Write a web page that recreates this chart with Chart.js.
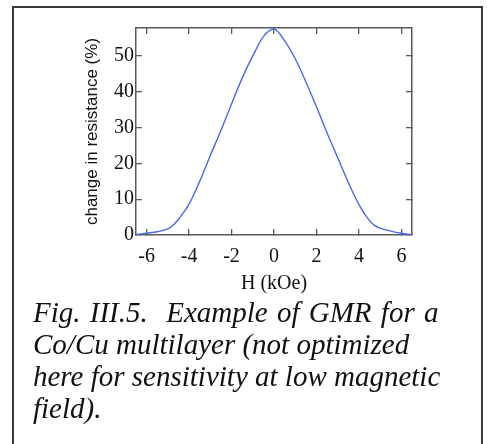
<!DOCTYPE html>
<html>
<head>
<meta charset="utf-8">
<script src="https://cdn.jsdelivr.net/npm/chart.js@4.4.1/dist/chart.umd.min.js"></script>
<style>
  html, body { margin: 0; padding: 0; background: #fff; }
  body { width: 487px; height: 444px; position: relative; overflow: hidden; }
  #frame { position: absolute; left: 12px; top: 6px; width: 471px; height: 450px;
           border: 2px solid #3a3a3a; border-bottom: none; box-sizing: border-box; }
  #wrap { position: absolute; left: 0; top: 0; width: 487px; height: 300px; }
  #caption { position: absolute; left: 33px; top: 296px; width: 450px;
             font-family: "Liberation Serif", "Times New Roman", serif; font-style: italic;
             font-size: 29px; line-height: 32px; color: #111; white-space: nowrap; }
  #caption .l1 { word-spacing: 2px; }
</style>
</head>
<body>
<div id="frame"></div>
<div id="wrap"><canvas id="gmr"></canvas></div>
<div id="caption"><span class="l1">Fig. III.5.&nbsp; Example of GMR for a</span><br>Co/Cu multilayer (not optimized<br>here for sensitivity at low magnetic<br>field).</div>
<script>
"use strict";

// GMR curve of a Co/Cu multilayer: resistance change vs applied field.

// ---------- data ----------
const H_KOE = [-6.5, -6.0, -5.5, -5.0, -4.75, -4.5, -4.0, -3.5, -3.0, -2.5, -2.0, -1.5, -1.0, -0.5,
               0, 0.5, 1.0, 1.5, 2.0, 2.5, 3.0, 3.5, 4.0, 4.5, 4.75, 5.0, 5.5, 6.0, 6.5];
const DR_PCT = [0.1, 0.5, 0.9, 1.7, 2.7, 4.4, 8.6, 15.0, 22.2, 29.2, 36.6, 43.8, 50.0, 55.4,
                57.5, 54.2, 49.2, 42.8, 35.8, 28.5, 21.6, 14.7, 8.5, 4.0, 2.6, 1.9, 1.1, 0.5, 0.1];
const X_TICKS = [-6, -4, -2, 0, 2, 4, 6];
const Y_TICKS = [0, 10, 20, 30, 40, 50];

const FRAME = "#5a5a5a";
const serif = "'Liberation Serif', 'Times New Roman', serif";

const fixTicks = vals => scale => { scale.ticks = vals.map(v => ({ value: v })); };
const axisBase = (vals) => ({
  type: "linear",
  afterBuildTicks: fixTicks(vals),
  border: { display: true, color: FRAME, width: 1.5 },
  grid: { drawOnChartArea: false, drawTicks: true, tickLength: -6, color: FRAME, lineWidth: 1.3 },
});

new Chart(document.getElementById("gmr"), {
  type: "line",
  data: {
    datasets: [{
      data: H_KOE.map((h, i) => ({ x: h, y: DR_PCT[i] })),
      borderColor: "#4a68f0", borderWidth: 1.4, cubicInterpolationMode: "monotone",
      pointRadius: 0, fill: false,
    }],
  },
  options: {
    responsive: true, maintainAspectRatio: false, animation: false,
    layout: { padding: { left: 0, top: 28, right: 75, bottom: 0 } },
    plugins: { legend: { display: false }, tooltip: { enabled: false } },
    scales: {
      x: {
        ...axisBase(X_TICKS), position: "bottom", min: -6.5, max: 6.5,
        afterFit: s => { s.height = 65; },
        ticks: { color: "#111", padding: 16, maxRotation: 0, font: { family: serif, size: 20 } },
        title: { display: true, text: "H (kOe)", color: "#111", padding: { top: 7 },
                 font: { family: serif, size: 20 } },
      },
      x2: {
        ...axisBase(X_TICKS), position: "top", min: -6.5, max: 6.5,
        afterFit: s => { s.height = 0; },
        ticks: { display: false },
      },
      y: {
        ...axisBase(Y_TICKS), position: "left", min: 0, max: 57.8,
        afterFit: s => { s.width = 136; },
        ticks: { color: "#111", padding: 8, font: { family: serif, size: 20 } },
        title: { display: true, text: "change in resistance (%)", color: "#111", padding: { top: 82, bottom: 0 },
                 font: { family: "'Liberation Sans', Arial, sans-serif", size: 17 } },
      },
      y2: {
        ...axisBase(Y_TICKS), position: "right", min: 0, max: 57.8,
        afterFit: s => { s.width = 0; },
        ticks: { display: false },
      },
    },
  },
});
</script>
</body>
</html>
